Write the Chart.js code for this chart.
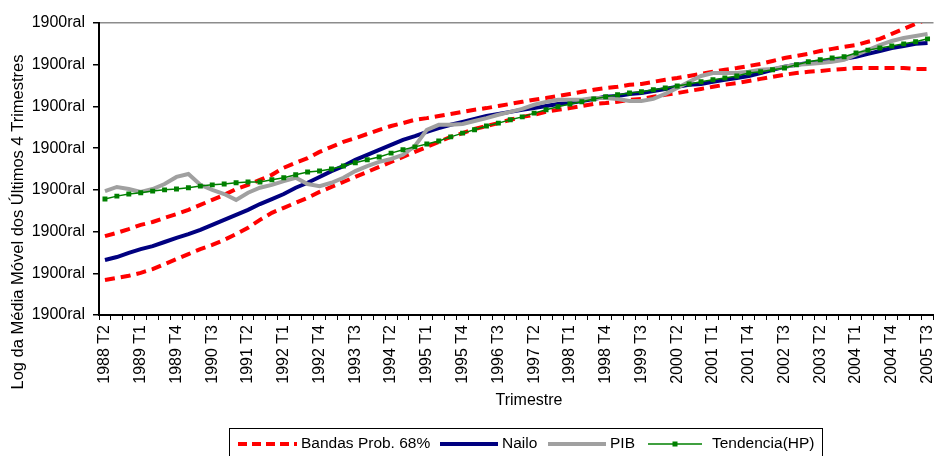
<!DOCTYPE html>
<html>
<head>
<meta charset="utf-8">
<script src="https://cdn.jsdelivr.net/npm/chart.js@4.4.1/dist/chart.umd.min.js"></script>
<style>
  html, body { margin: 0; padding: 0; background: #ffffff; }
  #wrap { width: 937px; height: 456px; }
</style>
</head>
<body>
<div id="wrap"><canvas id="c" width="937" height="456"></canvas></div>
<script>
// Quarterly categories, 1988 T2 .. 2005 T3
const quarters = [
  '1988 T2','1988 T3','1988 T4',
  '1989 T1','1989 T2','1989 T3','1989 T4',
  '1990 T1','1990 T2','1990 T3','1990 T4',
  '1991 T1','1991 T2','1991 T3','1991 T4',
  '1992 T1','1992 T2','1992 T3','1992 T4',
  '1993 T1','1993 T2','1993 T3','1993 T4',
  '1994 T1','1994 T2','1994 T3','1994 T4',
  '1995 T1','1995 T2','1995 T3','1995 T4',
  '1996 T1','1996 T2','1996 T3','1996 T4',
  '1997 T1','1997 T2','1997 T3','1997 T4',
  '1998 T1','1998 T2','1998 T3','1998 T4',
  '1999 T1','1999 T2','1999 T3','1999 T4',
  '2000 T1','2000 T2','2000 T3','2000 T4',
  '2001 T1','2001 T2','2001 T3','2001 T4',
  '2002 T1','2002 T2','2002 T3','2002 T4',
  '2003 T1','2003 T2','2003 T3','2003 T4',
  '2004 T1','2004 T2','2004 T3','2004 T4',
  '2005 T1','2005 T2','2005 T3'
];

// 68% probability bands
const bandUpper = [
  1.89,1.97,2.06,2.16,2.23,2.33,2.42,2.52,2.64,2.76,
  2.88,3.02,3.12,3.24,3.36,3.53,3.65,3.76,3.91,4.03,
  4.15,4.24,4.34,4.44,4.53,4.60,4.68,4.72,4.77,4.82,
  4.87,4.92,4.96,5.01,5.06,5.11,5.16,5.20,5.25,5.30,
  5.35,5.40,5.44,5.47,5.52,5.54,5.59,5.64,5.68,5.73,
  5.78,5.83,5.88,5.92,5.97,6.02,6.09,6.16,6.21,6.26,
  6.33,6.38,6.43,6.47,6.55,6.62,6.74,6.86,6.98,7.10
];
const bandLower = [
  0.84,0.89,0.94,1.01,1.10,1.22,1.34,1.46,1.58,1.68,
  1.80,1.94,2.09,2.28,2.45,2.57,2.69,2.81,2.95,3.07,
  3.19,3.31,3.43,3.55,3.67,3.79,3.91,4.03,4.15,4.27,
  4.36,4.46,4.53,4.60,4.68,4.75,4.80,4.87,4.92,4.96,
  5.01,5.06,5.08,5.11,5.16,5.18,5.23,5.28,5.32,5.37,
  5.42,5.47,5.52,5.56,5.61,5.66,5.71,5.76,5.80,5.83,
  5.85,5.88,5.90,5.92,5.92,5.92,5.92,5.92,5.90,5.90
];

// Nailo estimate
const nailo = [
  1.32,1.39,1.49,1.58,1.65,1.75,1.85,1.94,2.04,2.16,
  2.28,2.40,2.52,2.66,2.78,2.90,3.05,3.17,3.31,3.45,
  3.57,3.72,3.84,3.96,4.08,4.20,4.29,4.39,4.48,4.56,
  4.63,4.70,4.77,4.82,4.87,4.92,4.96,5.01,5.06,5.08,
  5.13,5.18,5.23,5.25,5.30,5.32,5.37,5.42,5.47,5.52,
  5.54,5.59,5.64,5.68,5.73,5.80,5.88,5.95,6.00,6.04,
  6.07,6.09,6.14,6.19,6.26,6.33,6.40,6.45,6.50,6.52
];

// PIB
const pib = [
  2.97,3.07,3.02,2.95,3.02,3.14,3.31,3.38,3.12,3.00,
  2.90,2.76,2.93,3.05,3.12,3.21,3.29,3.14,3.09,3.17,
  3.29,3.45,3.57,3.67,3.74,3.84,4.05,4.44,4.56,4.56,
  4.58,4.65,4.72,4.80,4.87,4.94,5.04,5.11,5.16,5.16,
  5.16,5.20,5.20,5.18,5.13,5.13,5.18,5.30,5.44,5.59,
  5.73,5.80,5.80,5.80,5.83,5.88,5.90,5.95,6.00,6.02,
  6.04,6.07,6.12,6.24,6.35,6.47,6.57,6.64,6.69,6.74
];

// Hodrick-Prescott trend
const trend = [
  2.78,2.85,2.90,2.93,2.97,3.00,3.02,3.05,3.09,3.12,
  3.14,3.17,3.19,3.19,3.24,3.29,3.36,3.43,3.45,3.50,
  3.57,3.65,3.72,3.79,3.88,3.96,4.03,4.10,4.17,4.27,
  4.36,4.44,4.53,4.60,4.68,4.75,4.84,4.92,4.99,5.06,
  5.11,5.18,5.23,5.28,5.32,5.35,5.40,5.44,5.49,5.54,
  5.59,5.64,5.68,5.73,5.80,5.83,5.88,5.92,6.00,6.07,
  6.12,6.16,6.19,6.28,6.35,6.40,6.45,6.50,6.55,6.62
];

// Axis texts
const yTickText = '1900ral';
const yAxisTitle = 'Log da Média Móvel dos Últimos 4 Trimestres';
const xAxisTitle = 'Trimestre';
const labelEvery = 3;

const FONT = "'Liberation Sans', Arial, Helvetica, sans-serif";
const RED = '#ff0000', NAVY = '#000080', GREY = '#a0a0a0', GREEN = '#008000';

// Legend entries (the two band lines share one entry)
const legendItems = [
  { text: 'Bandas Prob. 68%', color: RED,   width: 4, dash: [9, 5], marker: false, x0: 238, x1: 297, tx: 301 },
  { text: 'Nailo',            color: NAVY,  width: 4, dash: [],     marker: false, x0: 440, x1: 498, tx: 502 },
  { text: 'PIB',              color: GREY,  width: 4, dash: [],     marker: false, x0: 548, x1: 606, tx: 610 },
  { text: 'Tendencia(HP)',    color: GREEN, width: 1.5, dash: [],   marker: true,  x0: 648, x1: 702, tx: 712 }
];

const annotations = {
  id: 'annotations',
  afterDraw(chart) {
    const ctx = chart.ctx;
    ctx.save();
    ctx.fillStyle = '#000';
    // y-axis title
    ctx.font = '16.5px ' + FONT;
    ctx.textAlign = 'center';
    ctx.textBaseline = 'middle';
    ctx.save();
    ctx.translate(18, 222);
    ctx.rotate(-Math.PI / 2);
    ctx.fillText(yAxisTitle, 0, 0);
    ctx.restore();
    // x-axis title
    ctx.font = '16px ' + FONT;
    ctx.fillText(xAxisTitle, 529, 401);

    // legend box
    ctx.strokeStyle = '#000';
    ctx.lineWidth = 1;
    ctx.strokeRect(229.5, 428.5, 593, 40);
    ctx.font = '15.5px ' + FONT;
    ctx.textAlign = 'left';
    const ly = 444;
    legendItems.forEach(it => {
      ctx.save();
      ctx.strokeStyle = it.color;
      ctx.lineWidth = it.width;
      ctx.setLineDash(it.dash);
      ctx.beginPath();
      ctx.moveTo(it.x0, ly);
      ctx.lineTo(it.x1, ly);
      ctx.stroke();
      ctx.restore();
      if (it.marker) {
        ctx.fillStyle = it.color;
        const mx = (it.x0 + it.x1) / 2;
        ctx.fillRect(mx - 2.5, ly - 2.5, 5, 5);
      }
      ctx.fillStyle = '#000';
      ctx.fillText(it.text, it.tx, ly);
    });
    ctx.restore();
  }
};

const lineBase = { fill: false, tension: 0, pointRadius: 0, pointHoverRadius: 0 };

new Chart(document.getElementById('c'), {
  type: 'line',
  data: {
    labels: quarters,
    datasets: [
      Object.assign({}, lineBase, { label: 'Tendencia(HP)', data: trend, borderColor: GREEN, backgroundColor: GREEN,
        borderWidth: 1.5, pointStyle: 'rect', pointRadius: 3.5, pointBorderWidth: 0, order: 0 }),
      Object.assign({}, lineBase, { label: 'PIB', data: pib, borderColor: GREY, borderWidth: 4, order: 1 }),
      Object.assign({}, lineBase, { label: 'Nailo', data: nailo, borderColor: NAVY, borderWidth: 4, order: 2 }),
      Object.assign({}, lineBase, { label: 'Bandas Prob. 68%', data: bandUpper, borderColor: RED, borderWidth: 4,
        borderDash: [10, 6], order: 3 }),
      Object.assign({}, lineBase, { label: 'Bandas Prob. 68% (inferior)', data: bandLower, borderColor: RED, borderWidth: 4,
        borderDash: [10, 6], order: 3 })
    ]
  },
  options: {
    responsive: false,
    animation: false,
    devicePixelRatio: 1,
    layout: { padding: { top: 23, left: 0, right: 0, bottom: 0 } },
    plugins: { legend: { display: false }, tooltip: { enabled: false } },
    scales: {
      x: {
        offset: true,
        afterFit(scale) { scale.height = 141; scale.paddingLeft = 0; scale.paddingRight = 0; },
        border: { color: '#000', width: 2 },
        grid: { offset: true, drawOnChartArea: false, drawTicks: true, tickLength: 5, color: '#000', tickColor: '#000', lineWidth: 1 },
        ticks: {
          autoSkip: false, maxRotation: 90, minRotation: 90, padding: 5,
          color: '#000', font: { family: FONT, size: 16 },
          callback(value, index) { return index % labelEvery === 0 ? quarters[index] : ''; }
        }
      },
      y: {
        min: 0, max: 7,
        afterFit(scale) { scale.width = 99; scale.paddingTop = 0; scale.paddingBottom = 0; },
        border: { color: '#000', width: 2 },
        grid: {
          drawTicks: true, tickLength: 6, tickColor: '#000',
          color(c) { return c.tick && c.tick.value === 7 ? '#8c8c8c' : 'rgba(0,0,0,0)'; },
          lineWidth: 1.5
        },
        ticks: {
          stepSize: 1, padding: 8, color: '#000', font: { family: FONT, size: 16 },
          callback() { return yTickText; }
        }
      }
    }
  },
  plugins: [annotations]
});
</script>
</body>
</html>
